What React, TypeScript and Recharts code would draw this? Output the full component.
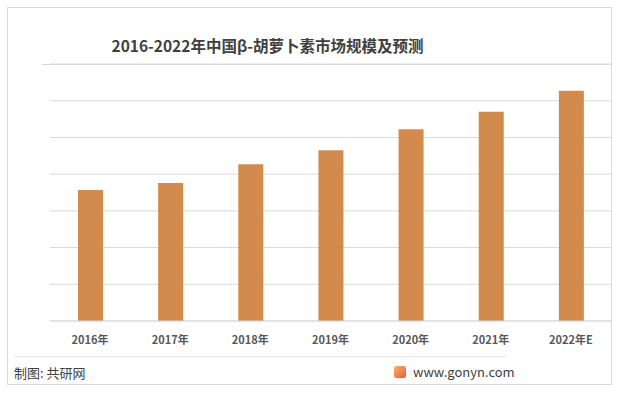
import { BarChart, Bar, XAxis, YAxis, CartesianGrid } from 'recharts';

const years = ['2016年', '2017年', '2018年', '2019年', '2020年', '2021年', '2022年E'];
const marketSize = [3.57, 3.76, 4.27, 4.65, 5.22, 5.7, 6.27];
const yTicks = [0, 1, 2, 3, 4, 5, 6, 7];

const data = years.map((year, i) => ({ year, value: marketSize[i] }));

const FONT = '"Noto Sans CJK SC", "Noto Sans", sans-serif';

export default function App() {
  return (
    <div style={{ position: 'absolute', left: 0, top: 0, width: 619, height: 395, background: '#fff', fontFamily: FONT }}>
      {/* outer frame */}
      <div style={{ position: 'absolute', left: 7, top: 7, width: 605, height: 378, border: '1px solid #d9d9d9', boxSizing: 'border-box' }} />
      <div style={{ position: 'absolute', left: 0, width: 535, top: 33, textAlign: 'center', fontSize: 15.5, fontWeight: 700, color: '#404040', lineHeight: '24px' }}>
        2016-2022年中国β-胡萝卜素市场规模及预测
      </div>
      <div style={{ position: 'absolute', left: 42, top: 64, width: 570, height: 1, background: '#d9d9d9' }} />
      <div style={{ position: 'absolute', left: 0, top: 0 }}>
        <BarChart width={619} height={395} data={data} margin={{ top: 64, right: 8, left: 50, bottom: 44 }}>
          <CartesianGrid vertical={false} stroke="#d9d9d9" />
          <XAxis
            dataKey="year"
            height={30}
            axisLine={{ stroke: '#d9d9d9' }}
            tickLine={false}
            tickMargin={9}
            tick={{ fill: '#595959', fontSize: 11, fontWeight: 700, fontFamily: FONT }}
          />
          <YAxis hide domain={[0, 7]} ticks={yTicks} />
          <Bar dataKey="value" fill="#d38b4d" barSize={25} isAnimationActive={false} />
        </BarChart>
      </div>
      <div style={{ position: 'absolute', left: 14, top: 356, width: 493, height: 1, background: '#e6e6e6' }} />
      <div style={{ position: 'absolute', left: 14, top: 363, fontSize: 13, color: '#404040', lineHeight: '20px' }}>
        制图: 共研网
      </div>
      <div style={{ position: 'absolute', left: 394, top: 366, width: 12, height: 12, borderRadius: 2, background: 'linear-gradient(135deg, #f7b267, #ef5a3c)' }} />
      <div style={{ position: 'absolute', left: 413, top: 362, fontSize: 13, color: '#404040', lineHeight: '20px' }}>
        www.gonyn.com
      </div>
    </div>
  );
}
